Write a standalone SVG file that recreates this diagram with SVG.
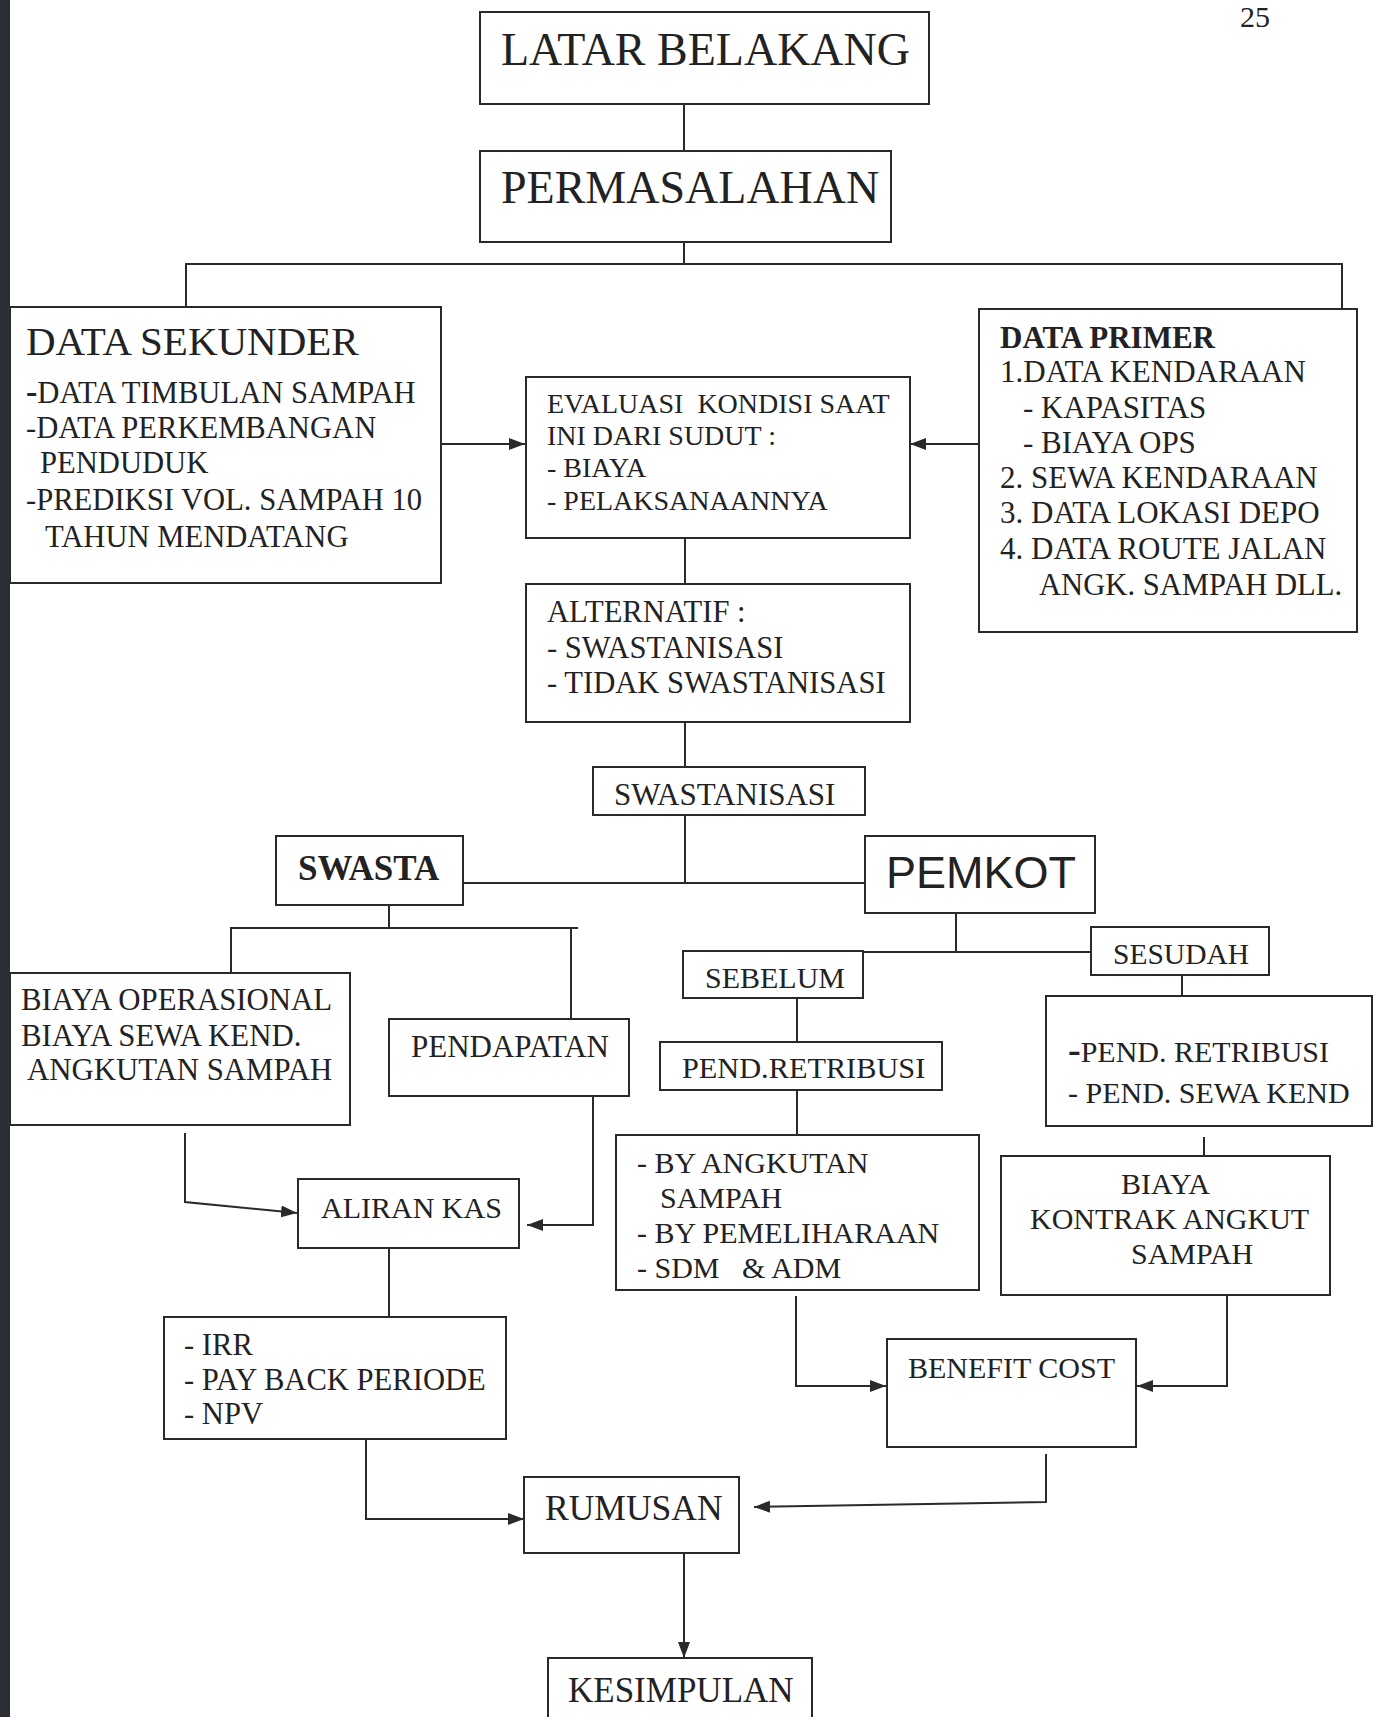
<svg xmlns="http://www.w3.org/2000/svg" width="1374" height="1717" viewBox="0 0 1374 1717">
<defs>
<marker id="ah" markerUnits="userSpaceOnUse" markerWidth="16" markerHeight="12" refX="16" refY="6" orient="auto">
<path d="M0,0 L16,6 L0,12 z" fill="#2a2a2a"/>
</marker>
<style>
.box{fill:#fff;stroke:#2a2a2a;stroke-width:2}
.ln{fill:none;stroke:#2a2a2a;stroke-width:2}
.ar{fill:none;stroke:#2a2a2a;stroke-width:2;marker-end:url(#ah)}
text{font-family:"Liberation Serif","Times New Roman",serif;fill:#222;font-size:30px}
.t31{font-size:31px}
.t305{font-size:30.6px}
.t45{font-size:46px}
.t41{font-size:41px}
.t28{font-size:28px}
.b{font-weight:bold}
.sans{font-family:"Liberation Sans",Arial,sans-serif;font-size:45px}
</style>
</defs>
<rect x="0" y="0" width="1374" height="1717" fill="#fff"/>
<rect x="0" y="0" width="10" height="1717" fill="#2b2e35"/>
<text x="1240" y="27" style="font-size:30px">25</text>

<g id="connectors">
<path class="ln" d="M684 104 V151"/>
<path class="ln" d="M684 242 V264"/>
<path class="ln" d="M186 307 V264 H1342 V309"/>
<path class="ar" d="M435 444 H525"/>
<path class="ar" d="M979 444 H910"/>
<path class="ln" d="M685 538 V584"/>
<path class="ln" d="M685 722 V767"/>
<path class="ln" d="M685 815 V883"/>
<path class="ln" d="M463 883 H865"/>
<path class="ln" d="M389 905 V928"/>
<path class="ln" d="M231 973 V928 H578"/>
<path class="ln" d="M571 928 V1019"/>
<path class="ln" d="M956 913 V952"/>
<path class="ln" d="M863 952 H1091"/>
<path class="ln" d="M797 998 V1042"/>
<path class="ln" d="M797 1090 V1135"/>
<path class="ln" d="M1182 975 V996"/>
<path class="ln" d="M1204 1137 V1156"/>
<path class="ar" d="M185 1133 V1202 L297 1213"/>
<path class="ar" d="M593 1088 V1225 H527"/>
<path class="ln" d="M389 1248 V1317"/>
<path class="ar" d="M796 1296 V1386 H886"/>
<path class="ar" d="M1227 1295 V1386 H1137"/>
<path class="ar" d="M366 1432 V1519 H524"/>
<path class="ar" d="M1046 1454 V1502 L754 1507"/>
<path class="ar" d="M684 1546 V1658"/>
</g>

<g id="latar">
<rect class="box" x="480" y="12" width="449" height="92"/>
<text class="t45" x="501" y="65">LATAR BELAKANG</text>
</g>
<g id="permasalahan">
<rect class="box" x="480" y="151" width="411" height="91"/>
<text class="t45" x="501" y="203">PERMASALAHAN</text>
</g>
<g id="data-sekunder">
<rect class="box" x="10" y="307" width="431" height="276"/>
<text class="t41" x="26" y="355">DATA SEKUNDER</text>
<text class="t305" x="26" y="403"><tspan class="b" style="font-size:34px">-</tspan>DATA TIMBULAN SAMPAH</text>
<text class="t305" x="26" y="438">-DATA PERKEMBANGAN</text>
<text class="t305" x="40" y="473">PENDUDUK</text>
<text class="t305" x="26" y="510">-PREDIKSI VOL. SAMPAH 10</text>
<text class="t305" x="45" y="547">TAHUN MENDATANG</text>
</g>
<g id="evaluasi">
<rect class="box" x="526" y="377" width="384" height="161"/>
<text class="t28" x="547" y="413" xml:space="preserve">EVALUASI  KONDISI SAAT</text>
<text class="t28" x="547" y="445">INI DARI SUDUT :</text>
<text class="t28" x="547" y="477">- BIAYA</text>
<text class="t28" x="547" y="510">- PELAKSANAANNYA</text>
</g>
<g id="data-primer">
<rect class="box" x="979" y="309" width="378" height="323"/>
<text class="b t31" x="1000" y="348">DATA PRIMER</text>
<text class="t31" x="1000" y="382">1.DATA KENDARAAN</text>
<text class="t31" x="1023" y="418">- KAPASITAS</text>
<text class="t31" x="1023" y="453">- BIAYA OPS</text>
<text class="t31" x="1000" y="488">2. SEWA KENDARAAN</text>
<text class="t31" x="1000" y="523">3. DATA LOKASI DEPO</text>
<text class="t31" x="1000" y="559">4. DATA ROUTE JALAN</text>
<text class="t305" x="1039" y="595">ANGK. SAMPAH DLL.</text>
</g>
<g id="alternatif">
<rect class="box" x="526" y="584" width="384" height="138"/>
<text class="t305" x="547" y="622">ALTERNATIF :</text>
<text class="t305" x="547" y="658">- SWASTANISASI</text>
<text class="t305" x="547" y="693">- TIDAK SWASTANISASI</text>
</g>
<g id="swastanisasi">
<rect class="box" x="593" y="767" width="272" height="48"/>
<text class="t31" x="614" y="805">SWASTANISASI</text>
</g>
<g id="swasta">
<rect class="box" x="276" y="836" width="187" height="69"/>
<text class="b" x="298" y="880" style="font-size:35px">SWASTA</text>
</g>
<g id="pemkot">
<rect class="box" x="865" y="836" width="230" height="77"/>
<text class="sans" x="886" y="888">PEMKOT</text>
</g>
<g id="sebelum">
<rect class="box" x="683" y="951" width="180" height="47"/>
<text x="705" y="988">SEBELUM</text>
</g>
<g id="sesudah">
<rect class="box" x="1091" y="927" width="178" height="48"/>
<text x="1113" y="964" style="font-size:29.5px">SESUDAH</text>
</g>
<g id="pend-retribusi">
<rect class="box" x="660" y="1042" width="282" height="48"/>
<text x="682" y="1078" style="font-size:30.3px">PEND.RETRIBUSI</text>
</g>
<g id="pend-sesudah">
<rect class="box" x="1046" y="996" width="326" height="130"/>
<text x="1068" y="1062"><tspan class="b" style="font-size:38px">-</tspan>PEND. RETRIBUSI</text>
<text x="1068" y="1103">- PEND. SEWA KEND</text>
</g>
<g id="biaya-operasional">
<rect class="box" x="10" y="973" width="340" height="152"/>
<text x="21" y="1010" style="font-size:30.8px">BIAYA OPERASIONAL</text>
<text x="21" y="1046" style="font-size:30.8px">BIAYA SEWA KEND.</text>
<text x="27" y="1080" style="font-size:30.8px">ANGKUTAN SAMPAH</text>
</g>
<g id="pendapatan">
<rect class="box" x="389" y="1019" width="240" height="77"/>
<text class="t31" x="411" y="1057">PENDAPATAN</text>
</g>
<g id="aliran-kas">
<rect class="box" x="298" y="1179" width="221" height="69"/>
<text x="321" y="1218">ALIRAN KAS</text>
</g>
<g id="by-angkutan">
<rect class="box" x="616" y="1135" width="363" height="155"/>
<text x="637" y="1173">- BY ANGKUTAN</text>
<text x="660" y="1208">SAMPAH</text>
<text x="637" y="1243">- BY PEMELIHARAAN</text>
<text x="637" y="1278" xml:space="preserve">- SDM   &amp; ADM</text>
</g>
<g id="biaya-kontrak">
<rect class="box" x="1001" y="1156" width="329" height="139"/>
<text x="1121" y="1194">BIAYA</text>
<text x="1030" y="1229">KONTRAK ANGKUT</text>
<text x="1131" y="1264">SAMPAH</text>
</g>
<g id="benefit-cost">
<rect class="box" x="887" y="1339" width="249" height="108"/>
<text x="908" y="1378">BENEFIT COST</text>
</g>
<g id="irr">
<rect class="box" x="164" y="1317" width="342" height="122"/>
<text class="t305" x="184" y="1355">- IRR</text>
<text class="t305" x="184" y="1390">- PAY BACK PERIODE</text>
<text class="t305" x="184" y="1424">- NPV</text>
</g>
<g id="rumusan">
<rect class="box" x="524" y="1477" width="215" height="76"/>
<text x="545" y="1520" style="font-size:35.5px">RUMUSAN</text>
</g>
<g id="kesimpulan">
<rect class="box" x="548" y="1658" width="264" height="80"/>
<text x="568" y="1702" style="font-size:35px">KESIMPULAN</text>
</g>
</svg>
